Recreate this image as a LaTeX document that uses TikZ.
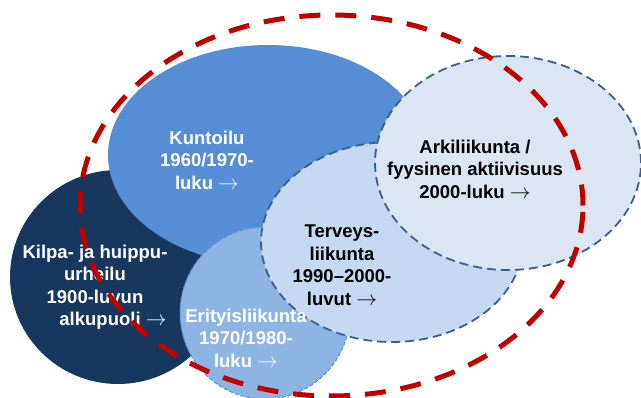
\documentclass[tikz,border=0pt]{standalone}
\usepackage{fontspec}
\setmainfont{Liberation Sans}
\usetikzlibrary{shapes.geometric}
\definecolor{navy}{HTML}{17375E}
\definecolor{midblue}{HTML}{558ED5}
\definecolor{lightblue}{HTML}{8EB4E3}
\definecolor{paleblue}{HTML}{C6D9F1}
\definecolor{mistblue}{HTML}{DCE6F2}
\definecolor{rimblue}{HTML}{3B5E8C}
\definecolor{darkred}{HTML}{C00000}
\newcommand{\onward}{\scalebox{1.2}{$\rightarrow$}}

\begin{document}
\begin{tikzpicture}[x=1pt, y=-1pt, line join=round,
	era/.style={ellipse, inner sep=0pt, outer sep=0pt},
	rim/.style={draw=rimblue, line width=1.8pt, dash pattern=on 9pt off 5pt},
	lbl/.style={align=center, font=\bfseries\fontsize{18.5}{22.5}\selectfont}]
	\useasboundingbox (0,0) rectangle (641,398);
	\node[era, fill=navy, minimum width=216, minimum height=214] (kilpa) at (118,277) {};
	\node[era, fill=midblue, minimum width=320, minimum height=220] (kunto) at (268,155) {};
	\node[era, fill=lightblue, draw=midblue, line width=1pt, dash pattern=on 4pt off 2pt,
		minimum width=170, minimum height=172] (erityis) at (265,313) {};
	\node[era, rim, fill=paleblue, minimum width=262, minimum height=200] (terveys) at (392,242) {};
	\node[era, rim, fill=mistblue, minimum width=266, minimum height=214] (arki) at (508,163) {};
	\node[lbl, white] (kilpatxt) at (95,287) {Kilpa- ja huippu-\\urheilu\\1900-luvun\\\hspace*{36pt}alkupuoli \onward};
	\node[lbl, white] (kuntotxt) at (207,160) {Kuntoilu\\1960/1970-\\luku \onward};
	\node[lbl, white] (erityistxt) at (246,338) {Erityisliikunta\\1970/1980-\\luku \onward};
	\node[lbl, black] (terveystxt) at (342,265) {Terveys-\\liikunta\\1990–2000-\\luvut \onward};
	\node[lbl, black] (arkitxt) at (475,169) {Arkiliikunta /\\fyysinen aktiivisuus\\2000-luku \onward};
	\node[era, draw=darkred, line width=5pt, dash pattern=on 21pt off 15pt,
		minimum width=503, minimum height=381] (kehys) at (331.5,205.5) {};
\end{tikzpicture}
\end{document}
